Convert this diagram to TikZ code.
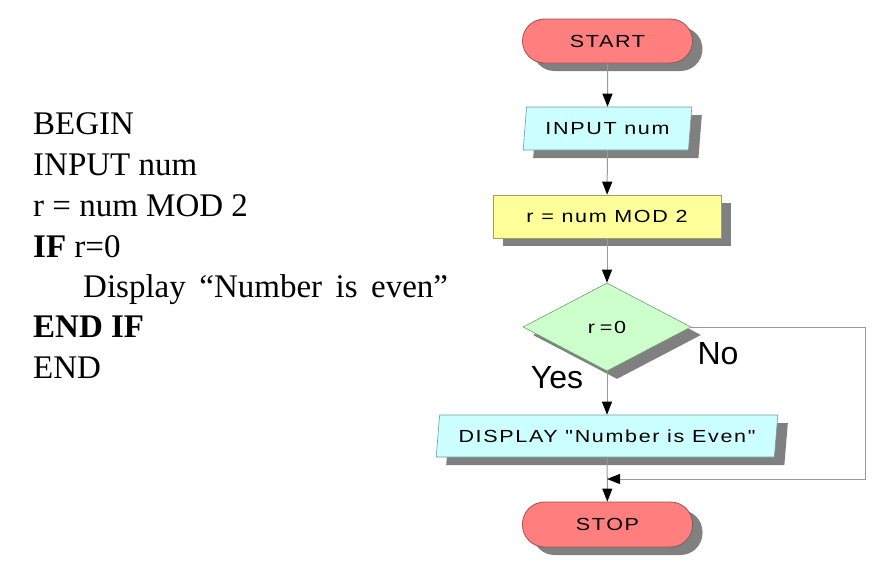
\documentclass[tikz,border=0pt]{standalone}
\usepackage{fontspec}
\setmainfont{Liberation Serif}
\newfontfamily\boxfont[FakeStretch=1.23,LetterSpace=9.5]{Liberation Sans}
\newfontfamily\labfont{Liberation Sans}
\usetikzlibrary{shapes.geometric,arrows.meta,shadows}
\definecolor{termfill}{HTML}{FF7F7F}
\definecolor{termdraw}{HTML}{A05050}
\definecolor{iofill}{HTML}{CCFFFF}
\definecolor{iodraw}{HTML}{6E9E9E}
\definecolor{procfill}{HTML}{FFFF99}
\definecolor{procdraw}{HTML}{A0A060}
\definecolor{decfill}{HTML}{CCFFCC}
\definecolor{decdraw}{HTML}{6E9E6E}
\definecolor{shadowgray}{HTML}{808080}
\definecolor{linegray}{HTML}{9A9A9A}
\begin{document}
\begin{tikzpicture}[x=1pt,y=-1pt,
  shad/.style={drop shadow={shadow xshift=10pt,shadow yshift=-8pt,fill=shadowgray,opacity=1}},
  boxtext/.style={font=\boxfont\fontsize{17.5}{20}\selectfont, text=black},
  term/.style={shad, boxtext, draw=termdraw, fill=termfill, line width=0.8pt,
    rounded corners=22pt, minimum width=170pt, minimum height=44pt, inner sep=0pt},
  io/.style={shad, boxtext, trapezium, trapezium stretches=true,
    trapezium left angle=78, trapezium right angle=102,
    draw=iodraw, fill=iofill, line width=0.6pt, inner sep=0pt},
  proc/.style={shad, boxtext, rectangle, draw=procdraw, fill=procfill, line width=0.6pt,
    minimum width=228pt, minimum height=43pt, inner sep=0pt},
  dec/.style={shad, boxtext, diamond, draw=decdraw, fill=decfill, line width=0.6pt,
    minimum width=168pt, minimum height=88pt, inner sep=0pt},
  conn/.style={draw=linegray, line width=1pt, -{Triangle[length=13pt,width=10pt,black]}},
  code/.style={font=\fontsize{33}{36}\selectfont, anchor=base west, inner sep=0pt},
  lab/.style={font=\labfont\fontsize{32}{34}\selectfont, inner sep=0pt}
]
\useasboundingbox (0,0) rectangle (879,562);

% pseudocode
\node[code] (l1) at (33,134) {BEGIN};
\node[code] (l2) at (33,175) {INPUT num};
\node[code] (l3) at (33,216) {r = num MOD 2};
\node[code] (l4) at (33,257) {\textbf{IF} r=0};
\node[code] (l5) at (83,297) {\spaceskip=13.5pt Display “Number is even”};
\node[code] (l6) at (33,337) {\textbf{END IF}};
\node[code] (l7) at (33,378) {END};

% flowchart
\node[term] (start) at (607.5,41) {START};
\node[io, minimum width=169pt, minimum height=43pt] (input) at (607.5,128.5) {INPUT num};
\node[proc] (calc) at (607,216.5) {r = num MOD 2};
\node[dec] (test) at (607,327) {r\hspace{5pt}=0};
\node[io, trapezium left angle=76.6, trapezium right angle=103.4,
      minimum width=342pt, minimum height=42pt] (disp) at (607,436) {DISPLAY "Number is Even"};
\node[term, minimum height=45pt] (stop) at (607.5,524.5) {STOP};

\coordinate (nc) at (865,479);
\coordinate (m) at (607,479);

\draw[conn] (start) -- (input);
\draw[conn] (input) -- (calc);
\draw[conn] (calc) -- (test);
\draw[conn] (test) -- (disp);
\draw[conn] (disp) -- (stop);
\draw[conn] (test.east) -| (nc) -- (m);

\node[lab] (yes) at (557,378) {Yes};
\node[lab] (no) at (718,354) {No};
\end{tikzpicture}
\end{document}
